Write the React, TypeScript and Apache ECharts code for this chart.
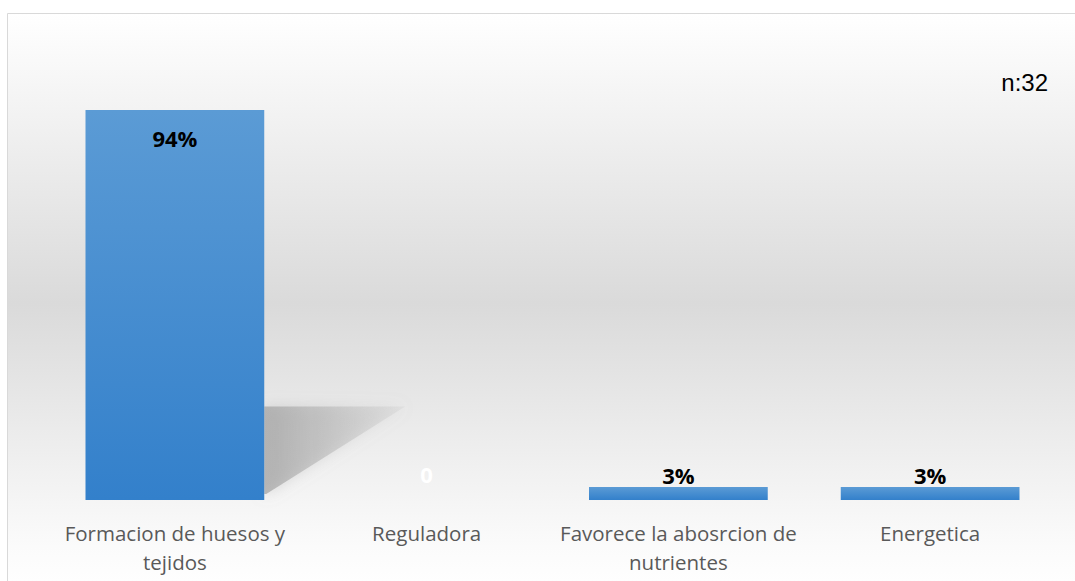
import React, { useEffect, useRef } from "react";
import * as echarts from "echarts";

const categories = [
  "Formacion de huesos y\ntejidos",
  "Reguladora",
  "Favorece la abosrcion de\nnutrientes",
  "Energetica",
];
const values = [93.75, 0, 3.125, 3.125];
const valueLabels = ["94%", "0", "3%", "3%"];
const sampleNote = "n:32";

const FONT = "'Open Sans', Lato, sans-serif";

export default function App() {
  const ref = useRef<HTMLDivElement>(null);
  useEffect(() => {
    const chart = echarts.init(ref.current!, null, { renderer: "svg" });
    const barGrad = new echarts.graphic.LinearGradient(0, 0, 0, 1, [
      { offset: 0, color: "#5b9bd5" },
      { offset: 1, color: "#3380cb" },
    ]);
    const option: any = {
      animation: false,
      backgroundColor: "#ffffff",
      grid: { left: 49, right: 19, top: 84, bottom: 81 },
      xAxis: {
        type: "category",
        data: categories,
        axisLine: { show: false },
        axisTick: { show: false },
        axisLabel: {
          color: "#595959",
          fontSize: 20.5,
          fontFamily: FONT,
          lineHeight: 29,
          margin: 18,
          interval: 0,
        },
      },
      yAxis: {
        type: "value",
        min: 0,
        max: 100,
        show: false,
        splitLine: { show: false },
      },
      series: [
        {
          type: "bar",
          data: values.map((v, i) => ({
            value: v,
            label: {
              show: true,
              position: i === 0 ? "insideTop" : "top",
              distance: i === 0 ? 17 : i === 1 ? 15 : 1,
              formatter: valueLabels[i],
              color: i === 1 ? "#ffffff" : "#000000",
              fontSize: 22,
              fontWeight: "bold",
              fontFamily: FONT,
            },
          })),
          barWidth: "71%",
          itemStyle: { color: barGrad },
          z: 5,
        },
      ],
      graphic: [
        {
          type: "rect",
          z: -10,
          shape: { x: 7.5, y: 13.5, width: 1080, height: 580 },
          style: {
            fill: new echarts.graphic.LinearGradient(0, 0, 0, 1, [
              { offset: 0, color: "#ffffff" },
              { offset: 0.5, color: "#dadada" },
              { offset: 0.92, color: "#fbfbfb" },
              { offset: 1, color: "#ffffff" },
            ]),
            stroke: "#d9d9d9",
            lineWidth: 1,
          },
        },
        {
          type: "text",
          right: 27,
          top: 70,
          style: {
            text: sampleNote,
            fontSize: 24,
            fontFamily: "'Liberation Sans', Arial, sans-serif",
            fill: "#000000",
          },
        },
      ],
    };
    chart.setOption(option);

    // decorative shadow behind the first bar, derived from the bar's layout
    const p0 = chart.convertToPixel({ seriesIndex: 0 }, [0, values[0]]) as number[];
    const base = chart.convertToPixel({ seriesIndex: 0 }, [0, 0]) as number[];
    const p1 = chart.convertToPixel({ seriesIndex: 0 }, [1, 0]) as number[];
    const step = p1[0] - p0[0];
    const halfBar = (step * 0.71) / 2;
    const rightEdge = p0[0] + halfBar;
    const bottom = base[1];
    const h = bottom - p0[1];
    const sTop = bottom - h * 0.24;
    chart.setOption({
      graphic: [
        {},
        {},
        {
          type: "polygon",
          z: 1,
          silent: true,
          shape: {
            points: [
              [rightEdge, sTop],
              [rightEdge + step * 0.56, sTop],
              [rightEdge + 2, bottom - 6],
              [rightEdge, bottom - 6],
            ],
          },
          style: {
            fill: new echarts.graphic.LinearGradient(0, 0, 1, 0, [
              { offset: 0, color: "rgba(160,160,160,0.7)" },
              { offset: 1, color: "rgba(180,180,180,0.15)" },
            ]),
            shadowBlur: 14,
            shadowColor: "rgba(160,160,160,0.5)",
          },
        },
      ],
    });
    return () => chart.dispose();
  }, []);
  return (
    <div
      ref={ref}
      style={{ position: "absolute", left: 0, top: 0, width: 1075, height: 581 }}
    />
  );
}
